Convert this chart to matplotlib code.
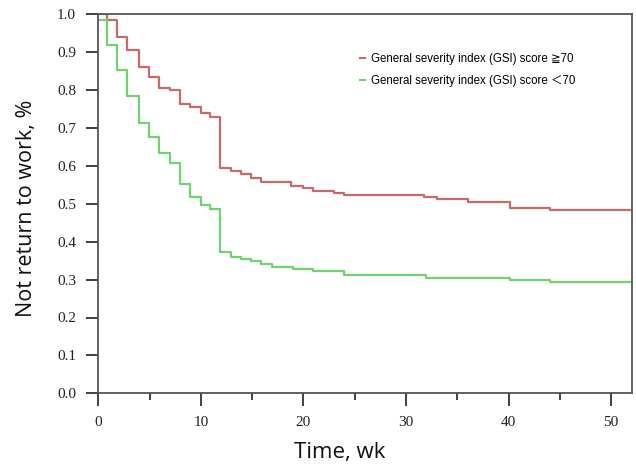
import matplotlib
matplotlib.use("Agg")
import matplotlib.pyplot as plt
from matplotlib.ticker import MultipleLocator, FormatStrFormatter

# Kaplan-Meier style step data
red_t = [0, 0.82, 1.85, 2.82, 4.0, 4.97, 5.91, 6.98, 7.96, 8.93, 9.97, 10.88,
         11.88, 12.95, 13.96, 14.9, 15.9, 18.8, 19.96, 20.9, 23.0, 24.0, 31.8,
         33.0, 36.0, 40.1, 44.0, 52]
red_s = [1.0, 0.985, 0.941, 0.906, 0.862, 0.834, 0.806, 0.800, 0.763, 0.756,
         0.739, 0.730, 0.595, 0.587, 0.579, 0.567, 0.558, 0.547, 0.541, 0.534,
         0.529, 0.523, 0.518, 0.512, 0.506, 0.490, 0.484, 0.484]

green_t = [0, 0.82, 1.85, 2.82, 4.0, 4.97, 5.91, 6.98, 7.96, 8.93, 9.97, 10.88,
           11.88, 12.95, 13.96, 14.9, 15.9, 16.9, 19.0, 20.9, 24.0, 31.9, 40.1,
           44.0, 52]
green_s = [0.985, 0.919, 0.853, 0.784, 0.712, 0.675, 0.635, 0.607, 0.552, 0.517,
           0.497, 0.485, 0.372, 0.360, 0.354, 0.349, 0.340, 0.334, 0.327, 0.323,
           0.312, 0.305, 0.299, 0.293, 0.293]

labels = ["General severity index (GSI) score \u226770",
          "General severity index (GSI) score \uff1c70"]
x_ticks = [0, 10, 20, 30, 40, 50]

fig = plt.figure(figsize=(6.36, 4.69), dpi=100)
ax = fig.add_axes([98.3 / 636, 1 - 393.3 / 469, (631.7 - 98.3) / 636, (393.3 - 14.3) / 469])

ax.step(red_t, red_s, where="post", color="#c96a6a", lw=1.6, label=labels[0])
ax.step(green_t, green_s, where="post", color="#72d272", lw=1.6, label=labels[1])

ax.set_xlim(0, 52)
ax.set_ylim(0, 1.0)
ax.set_xticks(x_ticks)
ax.xaxis.set_minor_locator(MultipleLocator(5))
ax.yaxis.set_major_locator(MultipleLocator(0.1))
ax.yaxis.set_major_formatter(FormatStrFormatter("%.1f"))

for s in ax.spines.values():
    s.set_color("#555555")
    s.set_linewidth(1.3)

ax.tick_params(axis="both", which="major", direction="out", length=9,
               width=1.3, color="#333333", pad=7)
ax.tick_params(axis="x", which="minor", direction="out", length=5, width=1.3,
               color="#333333")
for lab in ax.get_xticklabels() + ax.get_yticklabels():
    lab.set_fontfamily("Liberation Serif")
    lab.set_fontsize(11)
    lab.set_color("#222222")

fig.text(27 / 636, 1 - 208 / 469, "Not return to work, %", rotation=90,
         ha="center", va="center", fontsize=15.5, family="Open Sans", color="#111111")
fig.text(340 / 636, 1 - 452 / 469, "Time, wk", ha="center", va="center",
         fontsize=16, family="Open Sans", color="#111111")

leg = ax.legend(loc="upper left", frameon=False, handlelength=0.45,
                handletextpad=0.55, labelspacing=0.85, borderpad=0,
                prop={"family": ["Liberation Sans", "DejaVu Sans", "Noto Sans CJK SC"],
                      "size": 8.3})
leg.set_bbox_to_anchor((354 / 636, 1 - 47 / 469), transform=fig.transFigure)
for h in leg.get_lines():
    h.set_linewidth(1.5)

fig.savefig("out.png", dpi=100)
